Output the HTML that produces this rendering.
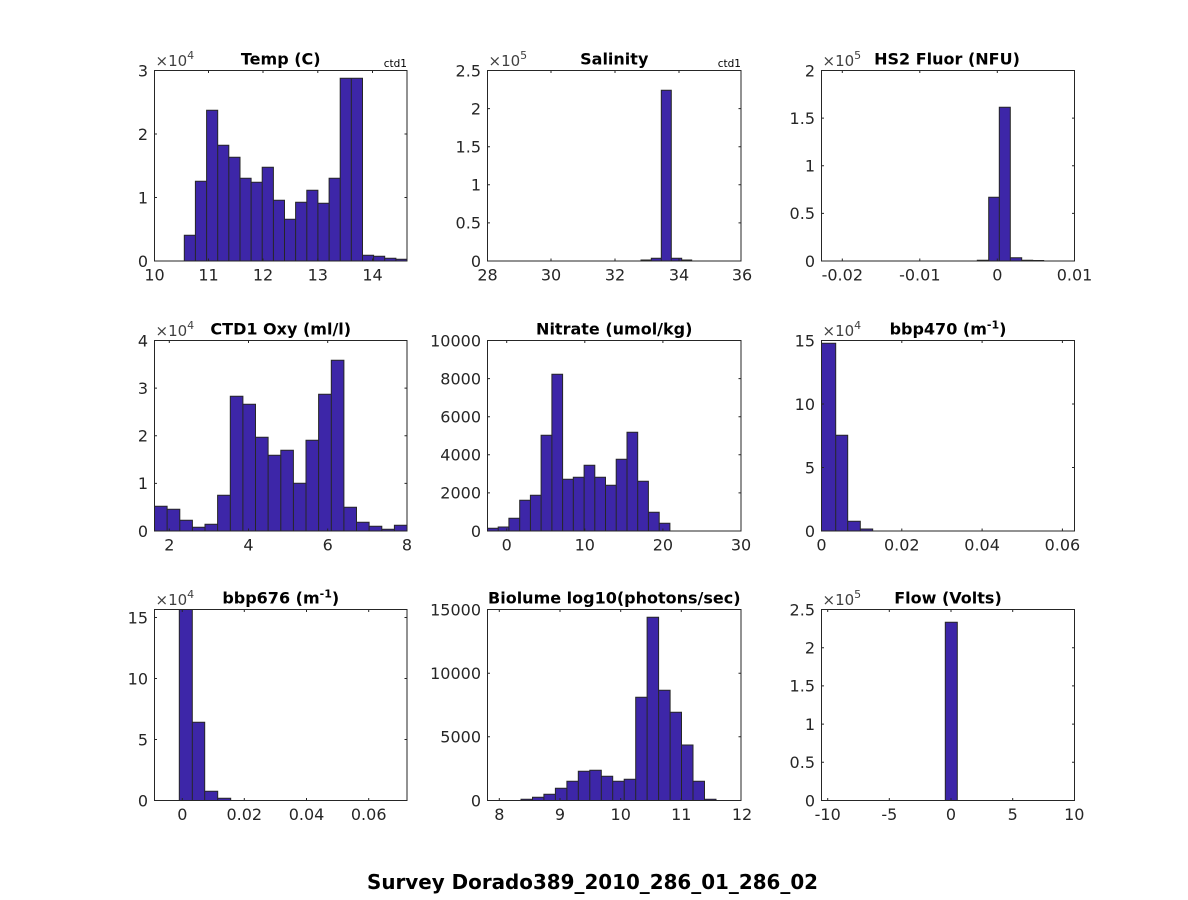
<!DOCTYPE html>
<html><head><meta charset="utf-8"><style>
html,body{margin:0;padding:0;background:#fff;}
svg{display:block;}
text{font-family:"DejaVu Sans","Liberation Sans",sans-serif;fill:#262626;}
.t{font-size:16px;}
.ti{font-size:16px;font-weight:bold;fill:#000;}
.ex{font-size:15px;fill:#404040;}
.sm{font-size:10.5px;fill:#000;}
.bar{fill:#3d26a8;stroke:#262626;stroke-width:1;}
.box{fill:none;stroke:#262626;stroke-width:1;}
</style></head><body>
<svg width="1188" height="900" viewBox="0 0 1188 900" xmlns="http://www.w3.org/2000/svg">
<rect width="1188" height="900" fill="#fff"/>

<!-- Panel 1: Temp -->
<path class="bar" d="M184.3 261V235.3H195.4V261ZM195.4 261V181.3H206.6V261ZM206.6 261V110.3H217.7V261ZM217.7 261V145.3H228.8V261ZM228.8 261V157.3H240V261ZM240 261V178.3H251.1V261ZM251.1 261V182.3H262.2V261ZM262.2 261V167.3H273.4V261ZM273.4 261V200.3H284.5V261ZM284.5 261V219.3H295.6V261ZM295.6 261V202.3H306.8V261ZM306.8 261V190.3H317.9V261ZM317.9 261V203.3H329.1V261ZM329.1 261V178.3H340.2V261ZM340.2 261V78.3H351.3V261ZM351.3 261V78.3H362.5V261ZM362.5 261V255.3H373.6V261ZM373.6 261V256.3H384.7V261ZM384.7 261V258.3H395.9V261ZM395.9 261V259.3H407V261Z"/>
<rect class="box" x="154.5" y="70.5" width="252.5" height="190.5"/>
<path class="box" d="M208.5 261v-2.5M208.5 70.5v2.5M263 261v-2.5M263 70.5v2.5M317.8 261v-2.5M317.8 70.5v2.5M372.5 261v-2.5M372.5 70.5v2.5M154.5 197.5h2.5M407 197.5h-2.5M154.5 134h2.5M407 134h-2.5"/>
<g class="t" text-anchor="middle"><text x="154.5" y="280.5">10</text><text x="208.5" y="280.5">11</text><text x="263" y="280.5">12</text><text x="317.8" y="280.5">13</text><text x="372.5" y="280.5">14</text></g>
<g class="t" text-anchor="end"><text x="148" y="266.8">0</text><text x="148" y="203.3">1</text><text x="148" y="139.8">2</text><text x="148" y="76.3">3</text></g>
<text class="ti" x="280.75" y="64.5" text-anchor="middle">Temp (C)</text>
<text class="ex" x="155.5" y="66">×10<tspan font-size="11" dy="-7">4</tspan></text>
<text class="sm" x="407" y="67" text-anchor="end">ctd1</text>

<!-- Panel 2: Salinity -->
<path class="bar" d="M641 261V260H651.3V261ZM651.3 261V258.3H661.3V261ZM661.3 261V90.3H671.3V261ZM671.3 261V258.3H681.7V261ZM681.7 261V260H691.7V261Z"/>
<rect class="box" x="487.5" y="70.5" width="253.5" height="190.5"/>
<path class="box" d="M551 261v-2.5M551 70.5v2.5M615 261v-2.5M615 70.5v2.5M679 261v-2.5M679 70.5v2.5M487.5 222.9h2.5M741 222.9h-2.5M487.5 184.8h2.5M741 184.8h-2.5M487.5 146.7h2.5M741 146.7h-2.5M487.5 108.6h2.5M741 108.6h-2.5"/>
<g class="t" text-anchor="middle"><text x="487.5" y="280.5">28</text><text x="551" y="280.5">30</text><text x="615" y="280.5">32</text><text x="679" y="280.5">34</text><text x="742" y="280.5">36</text></g>
<g class="t" text-anchor="end"><text x="481" y="266.8">0</text><text x="481" y="228.7">0.5</text><text x="481" y="190.6">1</text><text x="481" y="152.5">1.5</text><text x="481" y="114.4">2</text><text x="481" y="76.3">2.5</text></g>
<text class="ti" x="614.25" y="64.5" text-anchor="middle">Salinity</text>
<text class="ex" x="488.5" y="66">×10<tspan font-size="11" dy="-7">5</tspan></text>
<text class="sm" x="741" y="67" text-anchor="end">ctd1</text>

<!-- Panel 3: HS2 Fluor -->
<path class="bar" d="M977.3 261V260.3H988.7V261ZM988.7 261V197.3H999.3V261ZM999.3 261V107.3H1010.3V261ZM1010.3 261V257.7H1021.7V261ZM1021.7 261V260.3H1032.7V261ZM1032.7 261V260.5H1043.7V261Z"/>
<rect class="box" x="821.5" y="70.5" width="253" height="190.5"/>
<path class="box" d="M842.3 261v-2.5M842.3 70.5v2.5M919.8 261v-2.5M919.8 70.5v2.5M997.3 261v-2.5M997.3 70.5v2.5M821.5 213.4h2.5M1074.5 213.4h-2.5M821.5 165.75h2.5M1074.5 165.75h-2.5M821.5 118.1h2.5M1074.5 118.1h-2.5"/>
<g class="t" text-anchor="middle"><text x="842.3" y="280.5">-0.02</text><text x="919.8" y="280.5">-0.01</text><text x="997.3" y="280.5">0</text><text x="1074.5" y="280.5">0.01</text></g>
<g class="t" text-anchor="end"><text x="815" y="266.8">0</text><text x="815" y="219.2">0.5</text><text x="815" y="171.55">1</text><text x="815" y="123.9">1.5</text><text x="815" y="76.3">2</text></g>
<text class="ti" x="947" y="64.5" text-anchor="middle">HS2 Fluor (NFU)</text>
<text class="ex" x="822.5" y="66">×10<tspan font-size="11" dy="-7">5</tspan></text>

<!-- Panel 4: CTD1 Oxy -->
<path class="bar" d="M154.5 531V506.3H167.1V531ZM167.1 531V509.3H179.8V531ZM179.8 531V520.3H192.4V531ZM192.4 531V527.3H205V531ZM205 531V524.3H217.6V531ZM217.6 531V495.3H230.3V531ZM230.3 531V396.3H242.9V531ZM242.9 531V404.3H255.5V531ZM255.5 531V437.3H268.1V531ZM268.1 531V455.3H280.8V531ZM280.8 531V450.3H293.4V531ZM293.4 531V483.3H306V531ZM306 531V440.3H318.6V531ZM318.6 531V394.3H331.3V531ZM331.3 531V360.3H343.9V531ZM343.9 531V507.3H356.5V531ZM356.5 531V522.3H369.1V531ZM369.1 531V526.3H381.8V531ZM381.8 531V529.3H394.4V531ZM394.4 531V525.3H407V531Z"/>
<rect class="box" x="154.5" y="340.5" width="252.5" height="190.5"/>
<path class="box" d="M169.3 531v-2.5M169.3 340.5v2.5M248.5 531v-2.5M248.5 340.5v2.5M327.7 531v-2.5M327.7 340.5v2.5M154.5 483.4h2.5M407 483.4h-2.5M154.5 435.75h2.5M407 435.75h-2.5M154.5 388.1h2.5M407 388.1h-2.5"/>
<g class="t" text-anchor="middle"><text x="169.3" y="550.5">2</text><text x="248.5" y="550.5">4</text><text x="327.7" y="550.5">6</text><text x="407" y="550.5">8</text></g>
<g class="t" text-anchor="end"><text x="148" y="536.8">0</text><text x="148" y="489.2">1</text><text x="148" y="441.55">2</text><text x="148" y="393.9">3</text><text x="148" y="346.3">4</text></g>
<text class="ti" x="280.75" y="334.5" text-anchor="middle">CTD1 Oxy (ml/l)</text>
<text class="ex" x="155.5" y="336">×10<tspan font-size="11" dy="-7">4</tspan></text>

<!-- Panel 5: Nitrate -->
<path class="bar" d="M487.5 531V528.3H498.2V531ZM498.2 531V527H508.9V531ZM508.9 531V518.3H519.7V531ZM519.7 531V500.3H530.4V531ZM530.4 531V495.3H541.1V531ZM541.1 531V435.3H551.9V531ZM551.9 531V374.3H562.6V531ZM562.6 531V479.3H573.3V531ZM573.3 531V477.3H584.1V531ZM584.1 531V465.3H594.8V531ZM594.8 531V477.3H605.5V531ZM605.5 531V485.3H616.2V531ZM616.2 531V459.3H627V531ZM627 531V432.3H637.7V531ZM637.7 531V481.3H648.4V531ZM648.4 531V512.3H659.2V531ZM659.2 531V523.3H669.9V531Z"/>
<rect class="box" x="487.5" y="340.5" width="253.5" height="190.5"/>
<path class="box" d="M506.7 531v-2.5M506.7 340.5v2.5M584.8 531v-2.5M584.8 340.5v2.5M662.9 531v-2.5M662.9 340.5v2.5M487.5 492.9h2.5M741 492.9h-2.5M487.5 454.8h2.5M741 454.8h-2.5M487.5 416.7h2.5M741 416.7h-2.5M487.5 378.6h2.5M741 378.6h-2.5"/>
<g class="t" text-anchor="middle"><text x="506.7" y="550.5">0</text><text x="584.8" y="550.5">10</text><text x="662.9" y="550.5">20</text><text x="741" y="550.5">30</text></g>
<g class="t" text-anchor="end"><text x="481" y="536.8">0</text><text x="481" y="498.7">2000</text><text x="481" y="460.6">4000</text><text x="481" y="422.5">6000</text><text x="481" y="384.4">8000</text><text x="481" y="346.3">10000</text></g>
<text class="ti" x="614.25" y="334.5" text-anchor="middle">Nitrate (umol/kg)</text>

<!-- Panel 6: bbp470 -->
<path class="bar" d="M821.5 531V343.3H835.7V531ZM835.7 531V435.3H847.7V531ZM847.7 531V521.3H860.3V531ZM860.3 531V529H872.7V531Z"/>
<rect class="box" x="821.5" y="340.5" width="253" height="190.5"/>
<path class="box" d="M901.8 531v-2.5M901.8 340.5v2.5M982.1 531v-2.5M982.1 340.5v2.5M1062.4 531v-2.5M1062.4 340.5v2.5M821.5 467.5h2.5M1074.5 467.5h-2.5M821.5 404h2.5M1074.5 404h-2.5"/>
<g class="t" text-anchor="middle"><text x="821.5" y="550.5">0</text><text x="901.8" y="550.5">0.02</text><text x="982.1" y="550.5">0.04</text><text x="1062.4" y="550.5">0.06</text></g>
<g class="t" text-anchor="end"><text x="815" y="536.8">0</text><text x="815" y="473.3">5</text><text x="815" y="409.8">10</text><text x="815" y="346.3">15</text></g>
<text class="ti" x="948" y="334.5" text-anchor="middle">bbp470 (m<tspan font-size="11" dy="-6">-1</tspan><tspan dy="6">)</tspan></text>
<text class="ex" x="822.5" y="336">×10<tspan font-size="11" dy="-7">4</tspan></text>

<!-- Panel 7: bbp676 -->
<path class="bar" d="M179.3 800.5V609.5H192.3V800.5ZM192.3 800.5V722.3H204.7V800.5ZM204.7 800.5V791.3H217.7V800.5ZM217.7 800.5V798.3H230.7V800.5Z"/>
<rect class="box" x="154.5" y="609.5" width="252.5" height="191"/>
<path class="box" d="M182.3 800.5v-2.5M182.3 609.5v2.5M244.3 800.5v-2.5M244.3 609.5v2.5M306.5 800.5v-2.5M306.5 609.5v2.5M368.7 800.5v-2.5M368.7 609.5v2.5M154.5 739.5h2.5M407 739.5h-2.5M154.5 678.5h2.5M407 678.5h-2.5M154.5 617.5h2.5M407 617.5h-2.5"/>
<g class="t" text-anchor="middle"><text x="182.3" y="820">0</text><text x="244.3" y="820">0.02</text><text x="306.5" y="820">0.04</text><text x="368.7" y="820">0.06</text></g>
<g class="t" text-anchor="end"><text x="148" y="806.3">0</text><text x="148" y="745.3">5</text><text x="148" y="684.3">10</text><text x="148" y="623.3">15</text></g>
<text class="ti" x="280.75" y="603.5" text-anchor="middle">bbp676 (m<tspan font-size="11" dy="-6">-1</tspan><tspan dy="6">)</tspan></text>
<text class="ex" x="155.5" y="605">×10<tspan font-size="11" dy="-7">4</tspan></text>

<!-- Panel 8: Biolume -->
<path class="bar" d="M521 800.5V799.3H532.5V800.5ZM532.5 800.5V797.3H543.9V800.5ZM543.9 800.5V794.3H555.4V800.5ZM555.4 800.5V788.3H566.9V800.5ZM566.9 800.5V781.3H578.3V800.5ZM578.3 800.5V771.3H589.8V800.5ZM589.8 800.5V770.3H601.3V800.5ZM601.3 800.5V776.3H612.7V800.5ZM612.7 800.5V781.3H624.2V800.5ZM624.2 800.5V779.3H635.7V800.5ZM635.7 800.5V697.3H647.1V800.5ZM647.1 800.5V617.3H658.6V800.5ZM658.6 800.5V690.3H670.1V800.5ZM670.1 800.5V712.3H681.5V800.5ZM681.5 800.5V745H693V800.5ZM693 800.5V781.3H704.5V800.5ZM704.5 800.5V799.3H716V800.5Z"/>
<rect class="box" x="487.5" y="609.5" width="253.5" height="191"/>
<path class="box" d="M499.3 800.5v-2.5M499.3 609.5v2.5M560 800.5v-2.5M560 609.5v2.5M620.7 800.5v-2.5M620.7 609.5v2.5M681.3 800.5v-2.5M681.3 609.5v2.5M487.5 736.8h2.5M741 736.8h-2.5M487.5 673.2h2.5M741 673.2h-2.5"/>
<g class="t" text-anchor="middle"><text x="499.3" y="820">8</text><text x="560" y="820">9</text><text x="620.7" y="820">10</text><text x="681.3" y="820">11</text><text x="742" y="820">12</text></g>
<g class="t" text-anchor="end"><text x="481" y="806.3">0</text><text x="481" y="742.6">5000</text><text x="481" y="679">10000</text><text x="481" y="615.3">15000</text></g>
<text class="ti" x="614.3" y="603.5" text-anchor="middle">Biolume log10(photons/sec)</text>

<!-- Panel 9: Flow -->
<path class="bar" d="M945.3 800.5V622.3H957.3V800.5Z"/>
<rect class="box" x="821.5" y="609.5" width="253" height="191"/>
<path class="box" d="M827.7 800.5v-2.5M827.7 609.5v2.5M889.3 800.5v-2.5M889.3 609.5v2.5M951 800.5v-2.5M951 609.5v2.5M1012.7 800.5v-2.5M1012.7 609.5v2.5M821.5 762.3h2.5M1074.5 762.3h-2.5M821.5 724.1h2.5M1074.5 724.1h-2.5M821.5 685.9h2.5M1074.5 685.9h-2.5M821.5 647.7h2.5M1074.5 647.7h-2.5"/>
<g class="t" text-anchor="middle"><text x="827.7" y="820">-10</text><text x="889.3" y="820">-5</text><text x="951" y="820">0</text><text x="1012.7" y="820">5</text><text x="1074.3" y="820">10</text></g>
<g class="t" text-anchor="end"><text x="815" y="806.3">0</text><text x="815" y="768.1">0.5</text><text x="815" y="729.9">1</text><text x="815" y="691.7">1.5</text><text x="815" y="653.5">2</text><text x="815" y="615.3">2.5</text></g>
<text class="ti" x="948" y="603.5" text-anchor="middle">Flow (Volts)</text>
<text class="ex" x="822.5" y="605">×10<tspan font-size="11" dy="-7">5</tspan></text>

<!-- Main title -->
<text x="592.5" y="889" text-anchor="middle" font-size="20" font-weight="bold" style="fill:#000" textLength="451" lengthAdjust="spacingAndGlyphs">Survey Dorado389_2010_286_01_286_02</text>
</svg>
</body></html>
